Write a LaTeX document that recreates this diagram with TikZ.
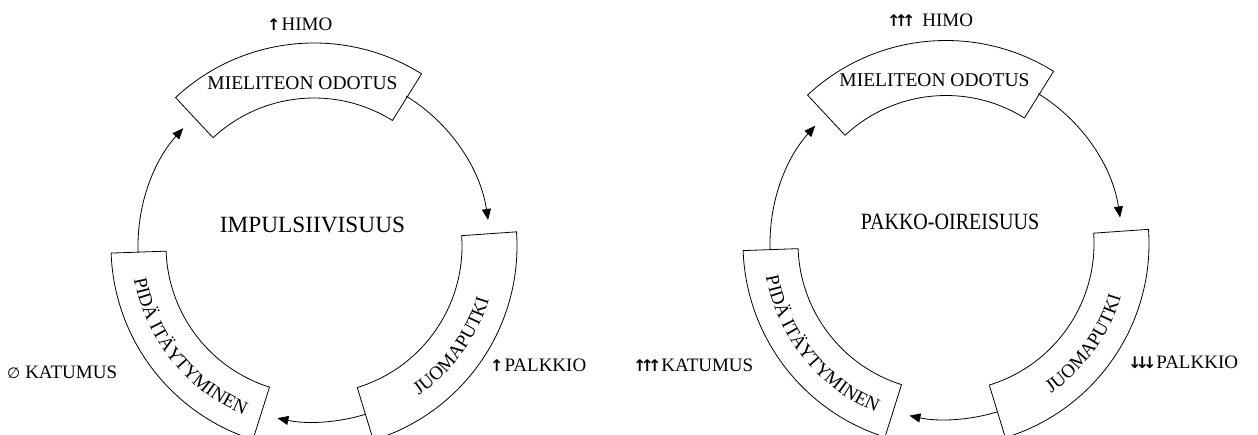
\documentclass[tikz,border=0pt]{standalone}
\usepackage{fontspec}
\setmainfont{Liberation Serif}
\newfontfamily\symfont{DejaVu Sans}
\usetikzlibrary{arrows.meta,decorations.text}
\newcommand\boxfont{\fontsize{19}{19}\selectfont}
\newcommand\arr[1]{{\symfont\bfseries\fontsize{16}{16}\selectfont #1}}
\newcommand\tup{\arr{↑}}
\newcommand\tdown{\arr{↓}}
\newcommand\drawcycle[1]{%
  \draw[boxshape] ([shift={(58:148)}]#1) arc[start angle=58,end angle=133,radius=148]
     -- ([shift={(133:203)}]#1) arc[start angle=133,end angle=58,radius=203] -- cycle;
  \draw[boxshape] ([shift={(-73:148)}]#1) arc[start angle=-73,end angle=4,radius=148]
     -- ([shift={(4:203)}]#1) arc[start angle=4,end angle=-73,radius=203] -- cycle;
  \draw[boxshape] ([shift={(182:148)}]#1) arc[start angle=182,end angle=252.5,radius=148]
     -- ([shift={(252.5:203)}]#1) arc[start angle=252.5,end angle=182,radius=203] -- cycle;
  \coordinate (#1p1) at ([shift={(182:176)}]#1);
  \coordinate (#1p2) at ([shift={(58.4:176)}]#1);
  \coordinate (#1p3) at ([shift={(-73:176)}]#1);
  \path[link] (#1p1) arc[start angle=182,end angle=138,radius=176];
  \path[link] (#1p2) arc[start angle=58.4,end angle=8.5,radius=176];
  \path[link] (#1p3) arc[start angle=-73,end angle=-102,radius=176];
  \coordinate (#1t1) at ([shift={(-74:183)}]#1);
  \coordinate (#1t2) at ([shift={(184:183)}]#1);
  \path[decorate, decoration={text along path, text={|\boxfont|JUOMAPUTKI}, text align=center}]
     (#1t1) arc[start angle=-74,end angle=2,radius=183];
  \path[decorate, decoration={text along path, text={|\boxfont|PIDÄ ITÄYTYMINEN}, text align=center}]
     (#1t2) arc[start angle=184,end angle=254,radius=183];
}
\begin{document}
\begin{tikzpicture}[x=1pt,y=1pt,
  boxshape/.style={draw, line width=0.8pt},
  link/.style={draw, line width=0.8pt, -{Triangle[length=11pt,width=9pt]}},
  lbl/.style={anchor=west, inner sep=0pt, font=\fontsize{19}{19}\selectfont},
  boxtxt/.style={inner sep=0pt, font=\fontsize{19.5}{20}\selectfont},
  midtxt/.style={inner sep=0pt, font=\fontsize{23.3}{24}\selectfont}]
\useasboundingbox (0,0) rectangle (1258,434);
\fill[white] (0,0) rectangle (1258,434);

\coordinate (CL) at (314,188);
\coordinate (CR) at (946,190.5);
\drawcycle{CL}
\drawcycle{CR}

\node[boxtxt] (mieL) at (302.5,351) {MIELITEON ODOTUS};
\node[boxtxt] (mieR) at (934.5,354) {MIELITEON ODOTUS};
\node[midtxt] (impL) at (312.5,209) {IMPULSIIVISUUS};
\node[midtxt] (pakR) at (950,212) {\scalebox{0.86}[1]{PAKKO-OIREISUUS}};

\node[lbl] (himoL) at (267,410) {\tup\hspace{1pt}HIMO};
\node[lbl] (palL) at (490,69) {\tup\hspace{1pt}PALKKIO};
\node[lbl] (katL) at (7,62) {{\symfont\fontsize{15}{15}\selectfont ∅}\hspace{5pt}KATUMUS};

\node[lbl] (himoR) at (887,414) {\tup\kern-6pt\tup\kern-6pt\tup\hspace{7pt}HIMO};
\node[lbl] (palR) at (1128,72) {\tdown\kern-6pt\tdown\kern-6pt\tdown\hspace{0pt}PALKKIO};
\node[lbl] (katR) at (633,69) {\tup\kern-6pt\tup\kern-6pt\tup\hspace{0pt}KATUMUS};
\end{tikzpicture}
\end{document}
